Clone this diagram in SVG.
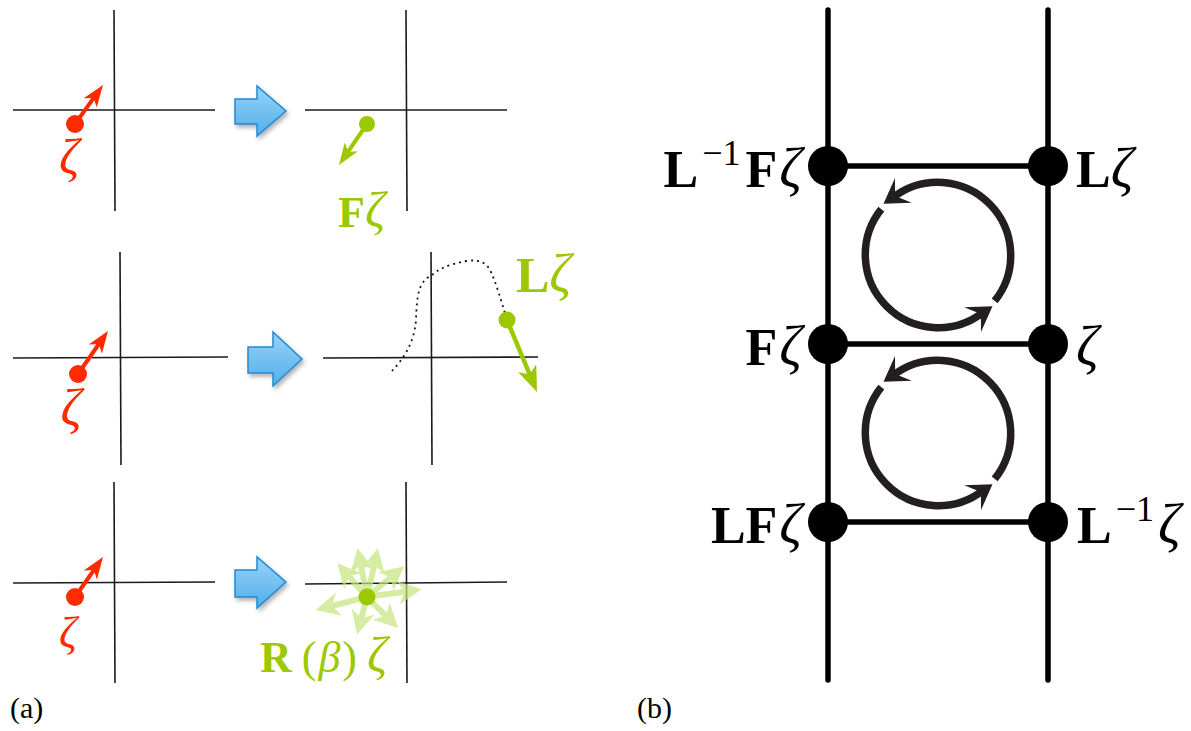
<svg xmlns="http://www.w3.org/2000/svg" width="1191" height="731" viewBox="0 0 1191 731">
<style>
.ax{stroke:#1a1a1a;stroke-width:1.6;fill:none}
.lbl{font-family:"Liberation Serif",serif}
.b{font-weight:bold}
.i{font-style:italic}
.red{fill:#ff2a00}
.grn{fill:#9cc800}
.rail{stroke:#000;stroke-width:5.5;fill:none;stroke-linecap:round}
.loop{stroke:#231f20;stroke-width:7.5;fill:none}
.head{fill:#231f20}
.blue{fill:url(#bg);stroke:#2589d0;stroke-width:1.5;filter:url(#sh)}
.burst{stroke:#c6e47c;stroke-width:6;opacity:0.7}
</style>
<defs>
<linearGradient id="bg" x1="0" y1="0" x2="0" y2="1">
<stop offset="0" stop-color="#96d5f8"/>
<stop offset="1" stop-color="#52ade9"/>
</linearGradient>
<filter id="sh" x="-20%" y="-20%" width="150%" height="160%">
<feDropShadow dx="2" dy="3" stdDeviation="2" flood-color="#000" flood-opacity="0.3"/>
</filter>
<marker id="hr" viewBox="0 0 22 16" markerWidth="22" markerHeight="16" refX="11" refY="8" orient="auto" markerUnits="userSpaceOnUse"><path d="M0,0 L22,8 L0,16 L6,8 z" fill="#ff2a00"/></marker>
<marker id="hg" viewBox="0 0 22 16" markerWidth="22" markerHeight="16" refX="11" refY="8" orient="auto" markerUnits="userSpaceOnUse"><path d="M0,0 L22,8 L0,16 L6,8 z" fill="#9cc800"/></marker>
<marker id="hg2" viewBox="0 0 26 20" markerWidth="26" markerHeight="20" refX="13" refY="10" orient="auto" markerUnits="userSpaceOnUse"><path d="M0,0 L26,10 L0,20 L7,10 z" fill="#9cc800"/></marker>
<marker id="hb" viewBox="0 0 24 24" markerWidth="24" markerHeight="24" refX="8" refY="12" orient="auto" markerUnits="userSpaceOnUse"><path d="M0,0 L24,12 L0,24 L7,12 z" fill="#c6e47c"/></marker>
</defs>

<!-- panel (a) -->
<g id="a-top-left">
<line class="ax" x1="13" y1="110" x2="215" y2="110"/>
<line class="ax" x1="114" y1="10" x2="115" y2="211"/>
<line x1="75" y1="124" x2="96.6" y2="93.9" stroke="#ff2a00" stroke-width="4" marker-end="url(#hr)"/>
<circle cx="75" cy="124" r="9" fill="#ff2a00"/>
<text class="lbl i red" x="69" y="174" font-size="50" text-anchor="middle">ζ</text>
</g>
<g id="a-arrow-1"><path class="blue" d="M235,99 L257,99 L257,86 L286,111 L257,136 L257,124 L235,124 Z"/></g>
<g id="a-top-right">
<line class="ax" x1="305" y1="110" x2="507" y2="110"/>
<line class="ax" x1="406" y1="10" x2="407" y2="211"/>
<line x1="367" y1="124" x2="345.2" y2="155.9" stroke="#9cc800" stroke-width="4" marker-end="url(#hg)"/>
<circle cx="367" cy="124" r="8" fill="#9cc800"/>
<text class="lbl grn" x="338" y="227" font-size="44"><tspan class="b">F</tspan><tspan class="i" font-size="50">ζ</tspan></text>
</g>

<g id="a-mid-left">
<line class="ax" x1="13" y1="358" x2="228" y2="357"/>
<line class="ax" x1="120" y1="252" x2="121" y2="465"/>
<line x1="78" y1="374" x2="101.7" y2="340" stroke="#ff2a00" stroke-width="4" marker-end="url(#hr)"/>
<circle cx="78" cy="374" r="9" fill="#ff2a00"/>
<text class="lbl i red" x="71" y="425" font-size="52" text-anchor="middle">ζ</text>
</g>
<g id="a-arrow-2"><path class="blue" d="M248,347 L273,347 L273,332 L302,359 L273,386 L273,373 L248,373 Z"/></g>
<g id="a-mid-right">
<line class="ax" x1="323" y1="358" x2="538" y2="357"/>
<line class="ax" x1="431" y1="252" x2="432" y2="465"/>
<path d="M392,371 C402,360 414,345 416,320 C417,295 418,282 432,275 C440,268 448,265 466,261 C480,259 487,263 491,272 C497,286 501,300 507,320" fill="none" stroke="#111" stroke-width="1.8" stroke-dasharray="2 4"/>
<line x1="507" y1="320" x2="532" y2="380" stroke="#9cc800" stroke-width="4.5" marker-end="url(#hg2)"/>
<circle cx="507" cy="320" r="8.5" fill="#9cc800"/>
<text class="lbl grn" x="516" y="292" font-size="50"><tspan class="b">L</tspan><tspan class="i" font-size="54">ζ</tspan></text>
</g>

<g id="a-bot-left">
<line class="ax" x1="13" y1="583" x2="215" y2="582"/>
<line class="ax" x1="114" y1="482" x2="115" y2="683"/>
<line x1="75" y1="597" x2="96.7" y2="566" stroke="#ff2a00" stroke-width="4" marker-end="url(#hr)"/>
<circle cx="75" cy="597" r="9" fill="#ff2a00"/>
<text class="lbl i red" x="68" y="647" font-size="44" text-anchor="middle">ζ</text>
</g>
<g id="a-arrow-3"><path class="blue" d="M235,570 L257,570 L257,557 L286,582 L257,608 L257,597 L235,597 Z"/></g>
<g id="a-bot-right">
<line class="ax" x1="305" y1="584" x2="507" y2="582"/>
<line class="ax" x1="406" y1="482" x2="407" y2="683"/>
<g class="burst">
<line x1="367" y1="597" x2="360.6" y2="563.7" marker-end="url(#hb)"/>
<line x1="367" y1="597" x2="374.5" y2="563.6" marker-end="url(#hb)"/>
<line x1="367" y1="597" x2="347.9" y2="575.2" marker-end="url(#hb)"/>
<line x1="367" y1="597" x2="391.8" y2="576.5" marker-end="url(#hb)"/>
<line x1="367" y1="597" x2="405.8" y2="591.5" marker-end="url(#hb)"/>
<line x1="367" y1="597" x2="331.2" y2="606.1" marker-end="url(#hb)"/>
<line x1="367" y1="597" x2="386.8" y2="616.8" marker-end="url(#hb)"/>
<line x1="367" y1="597" x2="361.1" y2="619.1" marker-end="url(#hb)"/>
</g>
<circle cx="367" cy="597" r="8.5" fill="#9cc800"/>
<text class="lbl grn" x="260" y="672" font-size="44"><tspan class="b">R</tspan><tspan dx="10">(</tspan><tspan class="i" dx="2">β</tspan><tspan dx="2">)</tspan><tspan class="i" dx="10" font-size="50">ζ</tspan></text>
</g>
<text class="lbl" x="10" y="718" font-size="30">(a)</text>

<!-- panel (b) -->
<g id="connectors">
<line class="rail" x1="828" y1="10" x2="828" y2="680"/>
<line class="rail" x1="1048" y1="10" x2="1048" y2="680"/>
<line class="rail" x1="828" y1="166" x2="1048" y2="166"/>
<line class="rail" x1="828" y1="344" x2="1048" y2="344"/>
<line class="rail" x1="828" y1="522" x2="1048" y2="522"/>
</g>
<g id="loop-1">
<path class="loop" d="M994.7,300.9 A73,73 0 0 0 893.1,197.5"/>
<path class="head" d="M883.5,203.7 L895.0,177.9 L895.1,195.9 L911.8,202.7 Z"/>
<path class="loop" d="M881.3,209.1 A73,73 0 0 0 982.9,312.5"/>
<path class="head" d="M992.5,306.3 L981.0,332.1 L980.9,314.1 L964.2,307.3 Z"/>
</g>
<g id="loop-2" transform="translate(0,178)">
<path class="loop" d="M994.7,300.9 A73,73 0 0 0 893.1,197.5"/>
<path class="head" d="M883.5,203.7 L895.0,177.9 L895.1,195.9 L911.8,202.7 Z"/>
<path class="loop" d="M881.3,209.1 A73,73 0 0 0 982.9,312.5"/>
<path class="head" d="M992.5,306.3 L981.0,332.1 L980.9,314.1 L964.2,307.3 Z"/>
</g>
<g id="node-L-1Fz">
<circle cx="828" cy="166" r="20"/>
<text class="lbl" x="802" y="187" font-size="52" text-anchor="end"><tspan class="b">L</tspan><tspan font-size="36" dy="-22" dx="4">−1</tspan><tspan class="b" dy="22" dx="5">F</tspan><tspan class="i" dx="2" font-size="56">ζ</tspan></text>
</g>
<g id="node-Lz">
<circle cx="1048" cy="166" r="20"/>
<text class="lbl" x="1076" y="187" font-size="52"><tspan class="b">L</tspan><tspan class="i" font-size="56">ζ</tspan></text>
</g>
<g id="node-Fz">
<circle cx="828" cy="344" r="20"/>
<text class="lbl" x="802" y="365" font-size="52" text-anchor="end"><tspan class="b">F</tspan><tspan class="i" dx="2" font-size="56">ζ</tspan></text>
</g>
<g id="node-z">
<circle cx="1048" cy="344" r="20"/>
<text class="lbl i" x="1076" y="365" font-size="56">ζ</text>
</g>
<g id="node-LFz">
<circle cx="828" cy="522" r="20"/>
<text class="lbl" x="802" y="543" font-size="52" text-anchor="end"><tspan class="b">LF</tspan><tspan class="i" dx="2" font-size="56">ζ</tspan></text>
</g>
<g id="node-L-1z">
<circle cx="1048" cy="522" r="20"/>
<text class="lbl" x="1077" y="543" font-size="52"><tspan class="b">L</tspan><tspan font-size="36" dy="-22" dx="4">−1</tspan><tspan class="i" dy="22" dx="4" font-size="56">ζ</tspan></text>
</g>
<text class="lbl" x="637" y="718" font-size="30">(b)</text>
</svg>
